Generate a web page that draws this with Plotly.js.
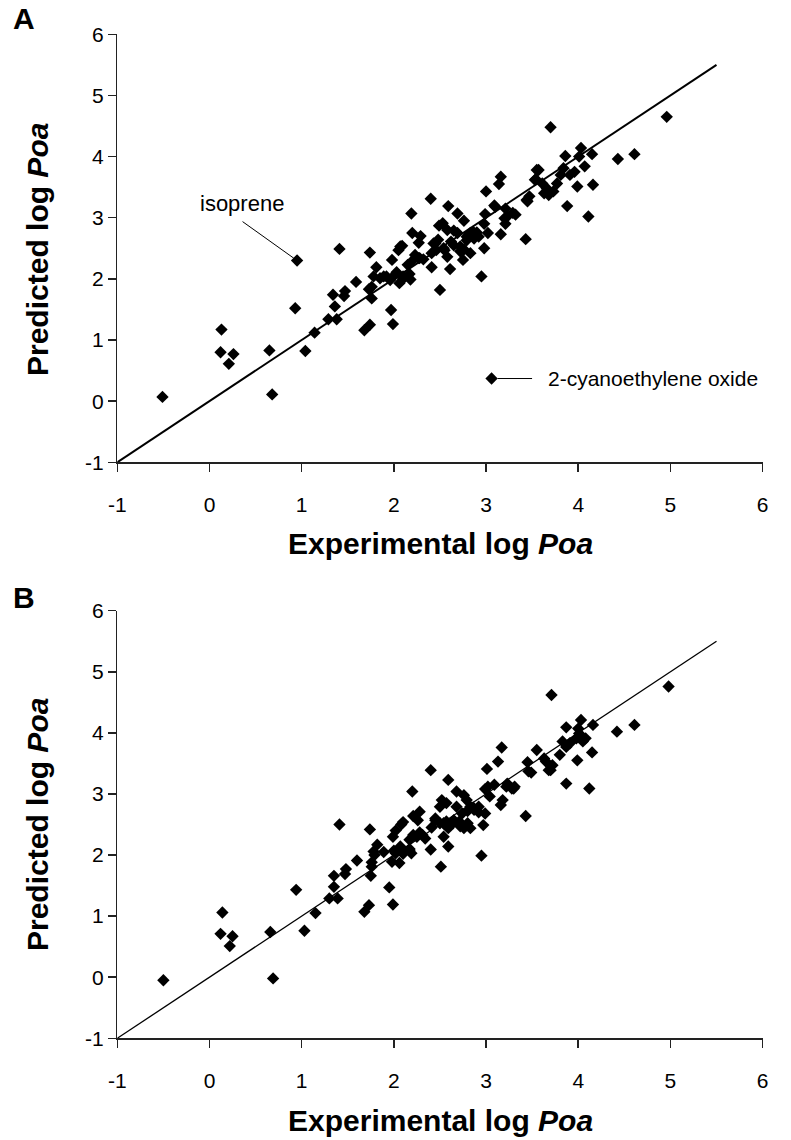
<!DOCTYPE html>
<html>
<head>
<meta charset="utf-8">
<script src="https://cdn.plot.ly/plotly-3.0.1.min.js"></script>
<style>html,body{margin:0;padding:0;background:#fff;}#chart{width:791px;height:1140px;}</style>
</head>
<body>
<div id="chart"></div>
<script>
// Panel A: experimental vs predicted log Poa
var expA = [-0.51,0.13,0.12,0.26,0.21,0.65,0.68,0.95,0.93,1.04,1.14,1.29,1.38,1.36,1.34,1.41,1.47,1.46,1.59,1.74,
  1.73,1.76,1.68,1.74,1.78,1.81,1.85,1.92,1.96,1.97,1.99,1.98,2.05,2.09,2.03,2.06,2.10,2.18,2.19,2.20,
  2.29,2.27,2.23,2.27,2.32,2.15,2.40,2.41,2.50,2.61,2.59,2.69,2.76,2.49,2.53,2.58,2.65,2.69,2.43,2.48,
  2.46,2.55,2.58,2.62,2.72,2.76,2.79,2.83,2.87,2.90,2.98,2.95,2.98,3.02,2.99,3.00,3.09,3.16,3.14,3.16,
  3.21,3.23,3.21,3.29,3.32,3.43,3.45,3.47,3.55,3.54,3.61,3.66,3.63,3.70,3.73,3.68,3.77,3.81,3.84,3.88,
  3.86,3.91,3.96,3.99,4.01,4.03,4.07,4.11,4.15,4.16,4.43,4.61,4.96,3.06,
  2.45,2.54,2.65,2.79,2.86,2.92,2.21,2.28,2.41,2.07,1.89,1.76,2.72,2.83,2.75,2.00,2.10,2.17,3.10,3.20,3.57,3.53,3.44];
var predA = [0.07,1.17,0.80,0.77,0.61,0.83,0.11,2.30,1.52,0.82,1.12,1.34,1.34,1.55,1.74,2.49,1.80,1.72,1.95,2.43,
  1.83,1.68,1.16,1.25,2.04,2.19,2.01,2.04,1.98,1.49,1.26,2.31,2.47,2.54,2.11,1.93,2.04,1.99,3.07,2.75,
  2.70,2.59,2.39,2.34,2.32,2.23,3.31,2.19,1.82,2.16,3.19,3.07,2.95,2.87,2.91,2.80,2.79,2.75,2.58,2.64,
  2.47,2.47,2.36,2.61,2.53,2.48,2.63,2.75,2.66,2.76,2.50,2.04,2.90,2.75,3.06,3.43,3.20,2.73,3.55,3.67,
  3.15,3.02,2.90,3.08,3.05,2.65,3.27,3.35,3.78,3.63,3.56,3.48,3.40,4.48,3.43,3.37,3.56,3.70,3.81,3.19,
  4.01,3.70,3.75,3.51,4.00,4.14,3.84,3.02,4.04,3.54,3.96,4.04,4.65,0.37,
  2.58,2.50,2.55,2.69,2.77,2.69,2.31,2.34,2.42,2.53,2.04,1.87,2.45,2.42,2.31,2.05,2.00,2.08,3.18,2.99,3.78,3.62,3.29];

// Panel B
var expB = [-0.50,0.14,0.12,0.25,0.22,0.66,0.69,0.94,1.03,1.15,1.30,1.39,1.35,1.35,1.41,1.48,1.47,1.60,1.74,1.75,
  1.76,1.68,1.73,1.79,1.82,1.78,1.95,1.99,1.98,2.02,2.06,1.99,2.02,2.10,2.07,2.17,2.19,2.20,2.21,2.28,
  2.26,2.17,2.25,2.31,2.34,2.40,2.40,2.51,2.59,2.59,2.68,2.76,2.79,2.52,2.50,2.57,2.68,2.45,2.50,2.57,
  2.54,2.59,2.64,2.71,2.76,2.80,2.74,2.83,2.87,2.92,2.99,2.97,2.95,3.01,2.99,3.04,3.09,3.13,3.17,3.16,
  3.18,3.23,3.28,3.31,3.43,3.45,3.46,3.49,3.55,3.63,3.65,3.70,3.72,3.71,3.80,3.83,3.87,3.87,3.87,3.91,
  3.98,3.99,4.01,4.03,4.05,4.12,4.15,4.16,4.42,4.61,4.98,
  2.45,2.54,2.65,2.80,2.86,2.92,2.21,2.28,2.41,2.08,1.89,1.76,2.72,2.83,2.00,2.10,2.17,3.22,3.30,3.02,4.00,4.08,3.68];
var predB = [-0.05,1.06,0.71,0.67,0.51,0.74,-0.02,1.43,0.76,1.05,1.29,1.29,1.48,1.66,2.50,1.77,1.69,1.91,2.42,1.66,
  1.81,1.07,1.18,2.00,2.17,2.06,1.47,1.19,1.89,2.03,1.87,2.30,2.40,2.54,2.14,2.08,2.03,3.04,2.64,2.71,
  2.57,2.25,2.30,2.33,2.27,3.39,2.09,1.81,2.14,3.23,3.04,2.98,2.90,2.90,2.79,2.85,2.79,2.57,2.52,2.55,
  2.30,2.44,2.52,2.55,2.44,2.52,2.68,2.79,2.74,2.79,2.68,2.49,1.99,3.41,3.08,2.96,3.15,3.53,3.76,2.82,
  2.90,3.17,3.09,3.12,2.64,3.52,3.37,3.35,3.72,3.58,3.53,3.39,3.47,4.62,3.64,3.86,3.77,3.17,4.09,3.83,
  3.91,3.55,3.99,4.21,3.86,3.09,3.68,4.13,4.02,4.13,4.76,
  2.60,2.52,2.57,2.72,2.78,2.70,2.33,2.37,2.45,2.50,2.05,1.88,2.47,2.44,2.07,2.02,2.10,3.12,3.09,3.12,4.07,3.91,3.39];

// 1:1 reference line
var lineX = [-1, 5.5];
var lineY = [-1, 5.5];

var tickVals = [-1,0,1,2,3,4,5,6];
var tickText = ['-1','0','1','2','3','4','5','6'];

var FONT = 'Liberation Sans, Arial, Helvetica, sans-serif';

function axisStyle(domain, anchor) {
  return {
    domain: domain, anchor: anchor, range: [-1, 6], autorange: false,
    tickmode: 'array', tickvals: tickVals, ticktext: tickText,
    showline: true, linecolor: '#222', linewidth: 1.5,
    ticks: 'outside', ticklen: 8, tickwidth: 1.5, tickcolor: '#222',
    showgrid: false, zeroline: false,
    tickfont: {family: FONT, size: 21, color: '#000'}
  };
}

var traces = [
  {x: lineX, y: lineY, xaxis: 'x', yaxis: 'y', mode: 'lines', line: {color: '#000', width: 2}, hoverinfo: 'skip'},
  {x: expA, y: predA, xaxis: 'x', yaxis: 'y', mode: 'markers', marker: {symbol: 'diamond', size: 9.5, color: '#000'}},
  {x: lineX, y: lineY, xaxis: 'x2', yaxis: 'y2', mode: 'lines', line: {color: '#000', width: 1.3}, hoverinfo: 'skip'},
  {x: expB, y: predB, xaxis: 'x2', yaxis: 'y2', mode: 'markers', marker: {symbol: 'diamond', size: 9.5, color: '#000'}}
];

var xd = [117.3/791, 762.6/791];
var xa = axisStyle(xd, 'y'); xa.ticklabelstandoff = 15;
var ya = axisStyle([1-462.3/1140, 1-34.3/1140], 'x');
var xb = axisStyle(xd, 'y2'); xb.ticklabelstandoff = 15;
var yb = axisStyle([1-1038.3/1140, 1-610.7/1140], 'x2');

var titleFont = {family: FONT, size: 30, color: '#000'};
var annFont = {family: FONT, size: 21, color: '#000'};

function P(px, py) { return {x: px/791, y: 1 - py/1140}; }

var anns = [
  Object.assign({xref:'paper', yref:'paper', text:'<b>A</b>', showarrow:false, font:{family:FONT,size:30,color:'#000'}, xanchor:'center', yanchor:'middle'}, P(24,18)),
  Object.assign({xref:'paper', yref:'paper', text:'<b>B</b>', showarrow:false, font:{family:FONT,size:30,color:'#000'}, xanchor:'center', yanchor:'middle'}, P(24,597)),
  Object.assign({xref:'paper', yref:'paper', text:'<b>Experimental log <i>Poa</i></b>', showarrow:false, font:titleFont, xanchor:'center', yanchor:'middle'}, P(440,543)),
  Object.assign({xref:'paper', yref:'paper', text:'<b>Predicted log <i>Poa</i></b>', showarrow:false, font:titleFont, textangle:-90, xanchor:'center', yanchor:'middle'}, P(37,250)),
  Object.assign({xref:'paper', yref:'paper', text:'<b>Experimental log <i>Poa</i></b>', showarrow:false, font:titleFont, xanchor:'center', yanchor:'middle'}, P(440,1120)),
  Object.assign({xref:'paper', yref:'paper', text:'<b>Predicted log <i>Poa</i></b>', showarrow:false, font:titleFont, textangle:-90, xanchor:'center', yanchor:'middle'}, P(37,825)),
  // isoprene label and leader
  {xref:'x', yref:'y', x:0.95, y:2.30, text:'isoprene', showarrow:false, font:{family:FONT,size:22,color:'#000'}, xanchor:'center', yanchor:'middle', xshift:-55, yshift:57},
  {xref:'x', yref:'y', x:0.95, y:2.30, text:'', showarrow:true, arrowhead:0, arrowwidth:1, arrowcolor:'#000', ax:-56, ay:-40, standoff:4},
  // 2-cyanoethylene oxide label and leader
  {xref:'x', yref:'y', x:3.06, y:0.37, text:'2-cyanoethylene oxide', showarrow:false, font:annFont, xanchor:'left', yanchor:'middle', xshift:54},
  {xref:'x', yref:'y', x:3.06, y:0.37, text:'', showarrow:true, arrowhead:0, arrowwidth:1, arrowcolor:'#000', ax:42, ay:0, standoff:6}
];

var layout = {
  width: 791, height: 1140,
  margin: {l:0, r:0, t:0, b:0},
  paper_bgcolor: '#fff', plot_bgcolor: '#fff',
  showlegend: false,
  xaxis: xa, yaxis: ya, xaxis2: xb, yaxis2: yb,
  annotations: anns
};

Plotly.newPlot('chart', traces, layout, {displayModeBar: false, staticPlot: true});
</script>
</body>
</html>
